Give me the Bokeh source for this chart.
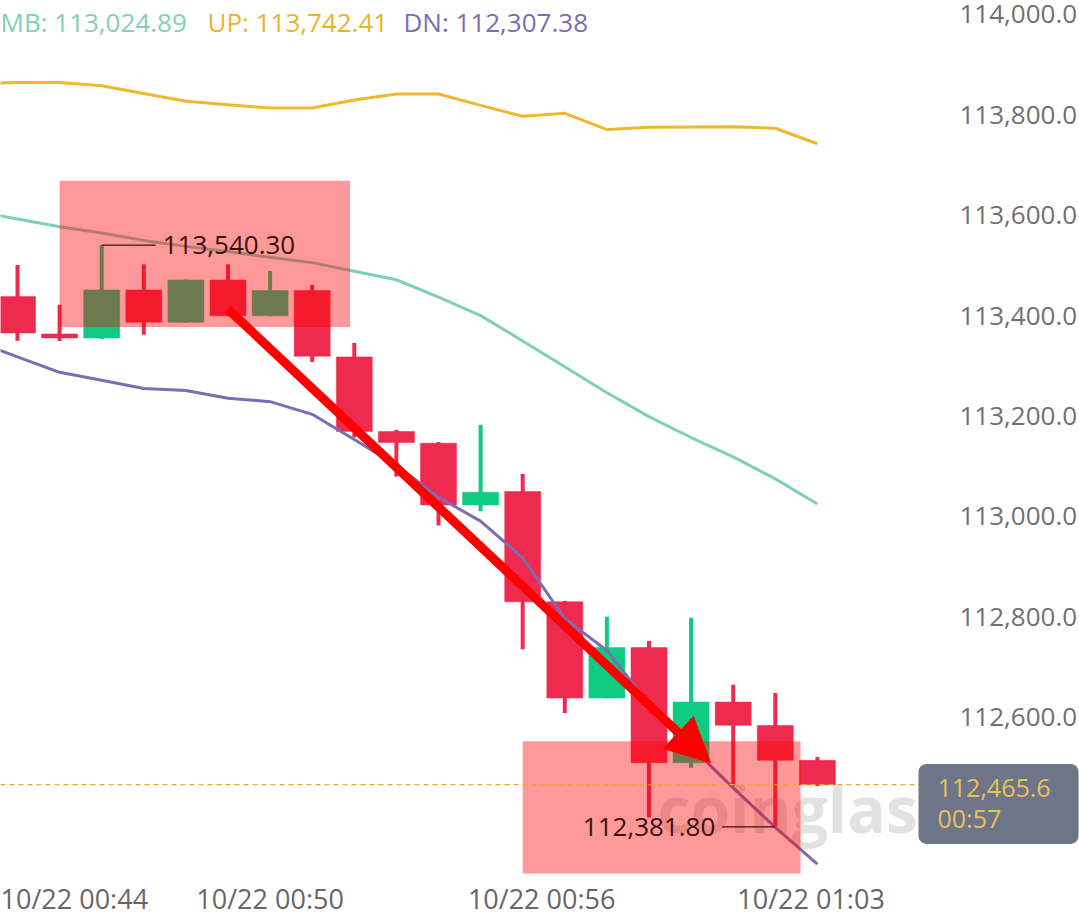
from bokeh.plotting import figure
from bokeh.models import (Range1d, FixedTicker, SingleIntervalTicker, NumeralTickFormatter,
                          Label, Span, Arrow, NormalHead, ColumnDataSource)
from bokeh.embed import file_html
from bokeh.resources import INLINE

# ---------------- data ----------------
MINUTE = list(range(20))          # 10/22 00:44 ... 01:03, one candle per minute
OPEN = [113438.2, 113363.5, 113355.5, 113451.3, 113386.7, 113471.1, 113399.8, 113450.1,
        113317.8, 113169.1, 113145.9, 113023.0, 113049.5, 112830.0, 112638.2, 112738.8,
        112509.4, 112630.3, 112583.5, 112514.1]
HIGH = [113500.9, 113421.6, 113540.3, 113502.3, 113472.0, 113502.3, 113489.0, 113461.2,
        113345.6, 113172.5, 113148.0, 113182.4, 113084.4, 112832.0, 112800.3, 112752.1,
        112798.3, 112664.8, 112648.2, 112520.7]
LOW = [113350.2, 113349.6, 113353.6, 113362.1, 113386.0, 113399.0, 113399.0, 113307.9,
       113157.2, 113079.3, 112982.1, 113010.5, 112735.4, 112608.5, 112638.0, 112400.3,
       112499.5, 112463.2, 112381.8, 112463.0]
CLOSE = [113365.5, 113355.5, 113451.3, 113386.7, 113471.1, 113399.8, 113450.1, 113319.2,
         113169.1, 113147.3, 113023.0, 113048.2, 112830.0, 112638.2, 112738.8, 112509.4,
         112630.3, 112584.1, 112514.1, 112465.6]

BAND_MINUTE = list(range(-1, 20))
UP = [113862.0, 113864.2, 113864.6, 113857.8, 113842.4, 113826.9, 113820.1, 113813.6, 113813.6,
      113829.5, 113841.4, 113841.4, 113818.8, 113797.1, 113803.1, 113770.6, 113775.3,
      113775.9, 113776.5, 113773.3, 113742.41]
MB = [113608.0, 113592.5, 113577.0, 113564.7, 113549.9, 113538.0, 113527.6, 113516.1, 113505.6,
      113488.4, 113471.5, 113436.8, 113400.1, 113349.6, 113298.0, 113246.5, 113198.9,
      113157.2, 113118.6, 113074.9, 113024.89]
DN = [113348.8, 113317.8, 113287.1, 113271.2, 113255.0, 113251.0, 113235.5, 113228.6, 113203.4,
      113153.3, 113101.7, 113038.2, 112990.7, 112917.3, 112796.3, 112732.9, 112625.8,
      112541.3, 112459.2, 112380.5, 112307.38]

X_TICK_LABELS = ["10/22 00:44", "10/22 00:50", "10/22 00:56", "10/22 01:03"]
COUNTDOWN = "00:57"

# highlighted zones and drawn arrow (minute index / price)
ZONE_X0 = [1.0, 12.0]
ZONE_X1 = [7.9, 18.6]
ZONE_TOP = [113668.8, 112552.4]
ZONE_BOTTOM = [113377.3, 112288.7]
ARROW_START = (5.0, 113413.0)
ARROW_END = (16.46, 112509.4)

# ---------------- layout ----------------
W, H = 1079, 919
FRAME_H = 880
PX_PER_MIN = 42.1
X_START = -17 / PX_PER_MIN
PX_PER_PRICE = 0.5043
Y_TOP = 114000 + 14 / PX_PER_PRICE
X_END = X_START + W / PX_PER_MIN
Y_BOTTOM = Y_TOP - FRAME_H / PX_PER_PRICE


def xp(px):  # canvas pixel -> minute index
    return X_START + px / PX_PER_MIN


def yp(py):  # canvas pixel (from top) -> price
    return Y_TOP - py / PX_PER_PRICE


XTICK_POS = [1.35, 6.0, 12.45, 18.85]
PRICE_AXIS_AT = xp(920)

FONT = "Open Sans"
RED = "#ee2b4e"
GREEN = "#0dcb81"

p = figure(width=W, height=H, x_range=Range1d(X_START, X_END), y_range=Range1d(Y_BOTTOM, Y_TOP),
           y_axis_location="right", toolbar_location=None, output_backend="svg",
           min_border_left=0, min_border_top=0, min_border_right=0,
           min_border_bottom=H - FRAME_H)
p.outline_line_color = None
p.grid.visible = False
p.background_fill_color = "white"
p.border_fill_color = "white"

# watermark (under everything)
p.add_layout(Label(x=xp(657), y=yp(812), text="coinglass", text_font=FONT,
                   text_font_size="64px", text_font_style="bold", text_color="#e2e2e2",
                   text_baseline="alphabetic", level="underlay"))

# candles
colors = [GREEN if c >= o else RED for o, c in zip(OPEN, CLOSE)]
src = ColumnDataSource(dict(x=MINUTE, o=OPEN, h=HIGH, l=LOW, c=CLOSE,
                            top=[max(o, c) for o, c in zip(OPEN, CLOSE)],
                            bot=[min(o, c) for o, c in zip(OPEN, CLOSE)], col=colors))
p.segment(x0="x", x1="x", y0="l", y1="h", line_color="col", line_width=4, source=src)
p.vbar(x="x", width=0.855, top="top", bottom="bot", fill_color="col", line_color="col",
       line_width=0.5, source=src)

# Bollinger bands
p.line(BAND_MINUTE, UP, line_color="#ecb830", line_width=3)
p.line(BAND_MINUTE, MB, line_color="#7fd0b8", line_width=3)
p.line(BAND_MINUTE, DN, line_color="#7d6cb2", line_width=3)

# highlighted zones (drawn over candles)
p.quad(left=ZONE_X0, right=ZONE_X1, top=ZONE_TOP, bottom=ZONE_BOTTOM,
       fill_color="#ff0000", fill_alpha=0.4, line_color=None)

# current price line
p.add_layout(Span(location=CLOSE[-1], dimension="width", line_color="#f4a62a",
                  line_dash="5 4", line_width=1.3))

# high / low annotations
ih = HIGH.index(max(HIGH))
il = LOW.index(min(LOW))
p.segment(x0=[ih], x1=[ih + 54 / PX_PER_MIN], y0=[HIGH[ih]], y1=[HIGH[ih]],
          line_color="#3a1010", line_width=1.3)
p.add_layout(Label(x=ih, y=HIGH[ih], x_offset=61, text=f"{HIGH[ih]:,.2f}", text_font=FONT,
                   text_font_size="26px", text_color="#3a1010", text_baseline="middle"))
p.segment(x0=[il - 53 / PX_PER_MIN], x1=[il], y0=[LOW[il]], y1=[LOW[il]],
          line_color="#3a1010", line_width=1.3)
p.add_layout(Label(x=il, y=LOW[il], x_offset=-60, text=f"{LOW[il]:,.2f}", text_font=FONT,
                   text_font_size="26px", text_color="#3a1010", text_baseline="middle",
                   text_align="right"))

# arrow
p.add_layout(Arrow(x_start=ARROW_START[0], y_start=ARROW_START[1], x_end=ARROW_END[0],
                   y_end=ARROW_END[1], line_color="#ff0000", line_width=9,
                   end=NormalHead(size=44, fill_color="#ff0000", line_color="#ff0000")))

# indicator legend
for px, txt, col in [(0, f"MB: {MB[-1]:,.2f}", "#7fd0b8"),
                     (207, f"UP: {UP[-1]:,.2f}", "#e8b52a"),
                     (403, f"DN: {DN[-1]:,.2f}", "#7d6cb2")]:
    p.add_layout(Label(x=xp(px), y=yp(22), text=txt, text_font=FONT, text_font_size="26px",
                       text_color=col, text_baseline="middle"))

# axes
ya = p.yaxis[0]
ya.fixed_location = PRICE_AXIS_AT
ya.ticker = SingleIntervalTicker(interval=200)
ya.formatter = NumeralTickFormatter(format="0,0.0")
ya.axis_line_color = None
ya.major_tick_line_color = None
ya.minor_tick_line_color = None
ya.major_tick_out = 0
ya.major_label_standoff = 35
ya.major_label_text_font = FONT
ya.major_label_text_font_size = "26px"
ya.major_label_text_color = "#707070"

xa = p.xaxis[0]
xa.ticker = FixedTicker(ticks=XTICK_POS)
xa.major_label_overrides = {t: lab for t, lab in zip(XTICK_POS, X_TICK_LABELS)}
xa.axis_line_color = None
xa.major_tick_line_color = None
xa.minor_tick_line_color = None
xa.major_tick_out = 0
xa.major_label_standoff = 3
xa.major_label_text_font = FONT
xa.major_label_text_font_size = "27px"
xa.major_label_text_color = "#666666"

# price badge sitting over the price axis
p.add_layout(Label(x=xp(918), y=yp(767), text=f"{CLOSE[-1]:,.1f}\n{COUNTDOWN}", text_font=FONT,
                   text_font_size="25px", text_color="#e9c15c", text_line_height=0.91,
                   anchor="top_left", background_fill_color="#6f7589",
                   border_radius=8, padding=dict(left=19, right=28, top=6, bottom=9)))

open("out.html", "w").write(file_html(p, INLINE))
